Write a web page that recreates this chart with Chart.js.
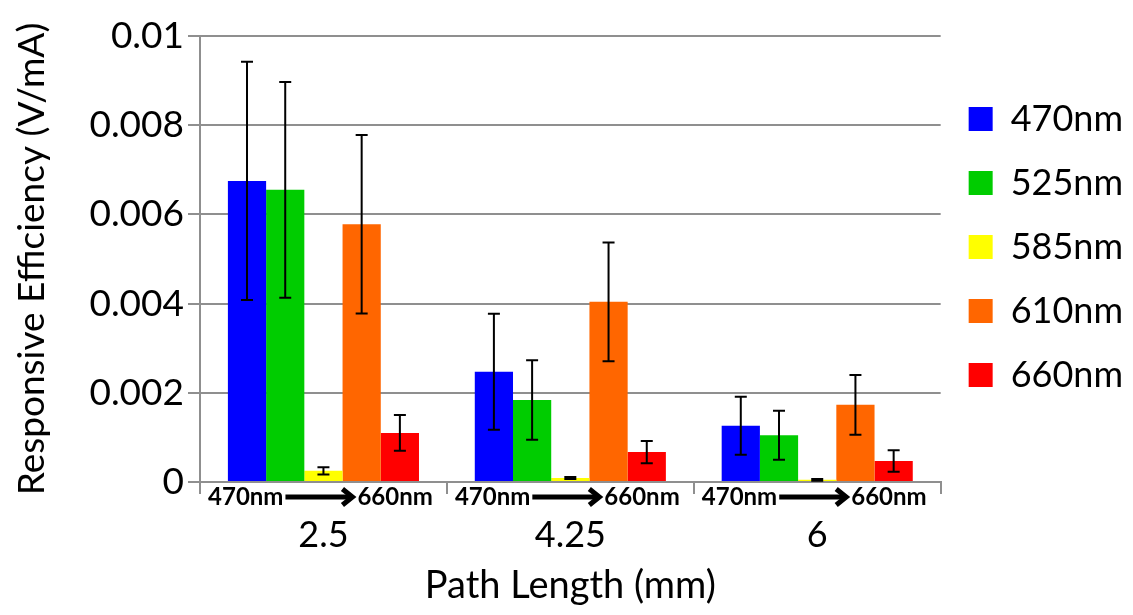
<!DOCTYPE html>
<html>
<head>
<meta charset="utf-8">
<title>Responsive Efficiency vs Path Length</title>
<script src="https://cdn.jsdelivr.net/npm/chart.js@4.4.1/dist/chart.umd.min.js"></script>
<style>
    html, body { margin: 0; padding: 0; background: #fff; }
    #wrap { width: 1133px; height: 615px; position: relative; }
</style>
</head>
<body>
<div id="wrap"><canvas id="effChart"></canvas></div>
<script>
// Données
const pathLengths = ['2.5', '4.25', '6'];
const seriesLabels = ['470nm', '525nm', '585nm', '610nm', '660nm'];
const seriesColors = ['#0000ff', '#00cc00', '#ffff00', '#ff6600', '#ff0000'];

const eff470 = [0.00675, 0.00247, 0.00126];
const eff525 = [0.00655, 0.00184, 0.00105];
const eff585 = [0.00025, 0.00009, 0.00005];
const eff610 = [0.00578, 0.00404, 0.00173];
const eff660 = [0.00110, 0.00067, 0.00047];

const err470 = [0.00267, 0.00130, 0.00065];
const err525 = [0.00242, 0.00089, 0.00055];
const err585 = [0.00008, 0.00002, 0.00002];
const err610 = [0.00200, 0.00133, 0.00067];
const err660 = [0.00040, 0.00025, 0.00024];

const yTicks = [0, 0.002, 0.004, 0.006, 0.008, 0.01];

const allValues = [eff470, eff525, eff585, eff610, eff660];
const allErrors = [err470, err525, err585, err610, err660];

const FONT = 'Lato, "Open Sans", sans-serif';
const GRID = '#8f8f8f';

// Barres d'erreur
const errorBars = {
    id: 'errorBars',
    afterDatasetsDraw(chart) {
        const ctx = chart.ctx;
        const y = chart.scales.y;
        ctx.save();
        ctx.strokeStyle = '#000';
        ctx.lineWidth = 2;
        chart.data.datasets.forEach((ds, di) => {
            const meta = chart.getDatasetMeta(di);
            meta.data.forEach((bar, i) => {
                const v = ds.data[i];
                const e = ds.errors[i];
                const top = y.getPixelForValue(v + e);
                const bot = y.getPixelForValue(Math.max(v - e, 0));
                ctx.beginPath();
                ctx.moveTo(bar.x, top);
                ctx.lineTo(bar.x, bot);
                ctx.moveTo(bar.x - 6, top);
                ctx.lineTo(bar.x + 6, top);
                ctx.moveTo(bar.x - 6, bot);
                ctx.lineTo(bar.x + 6, bot);
                ctx.stroke();
            });
        });
        ctx.restore();
    }
};

// Étiquettes "470nm -> 660nm" sous chaque groupe
const rangeLabels = {
    id: 'rangeLabels',
    afterDraw(chart) {
        const ctx = chart.ctx;
        const x = chart.scales.x;
        const yy = x.top + 15;
        ctx.save();
        ctx.fillStyle = '#000';
        ctx.strokeStyle = '#000';
        ctx.font = 'bold 24px ' + FONT;
        ctx.textBaseline = 'middle';
        pathLengths.forEach((p, i) => {
            const cx = x.getPixelForValue(i);
            ctx.textAlign = 'right';
            ctx.fillText(seriesLabels[0], cx - 40, yy);
            ctx.textAlign = 'left';
            ctx.fillText(seriesLabels[seriesLabels.length - 1], cx + 34, yy);
            // flèche
            ctx.lineWidth = 5;
            ctx.lineCap = 'butt';
            ctx.beginPath();
            ctx.moveTo(cx - 38, yy);
            ctx.lineTo(cx + 28, yy);
            ctx.stroke();
            ctx.lineJoin = 'miter';
            ctx.beginPath();
            ctx.moveTo(cx + 19, yy - 8);
            ctx.lineTo(cx + 29, yy);
            ctx.lineTo(cx + 19, yy + 8);
            ctx.stroke();
        });
        ctx.restore();
    }
};

const datasets = seriesLabels.map((lab, i) => ({
    label: lab,
    data: allValues[i],
    errors: allErrors[i],
    backgroundColor: seriesColors[i],
    borderWidth: 0,
    categoryPercentage: 0.774,
    barPercentage: 1.0
}));

new Chart(document.getElementById('effChart'), {
    type: 'bar',
    data: { labels: pathLengths, datasets: datasets },
    plugins: [errorBars, rangeLabels],
    options: {
        responsive: true,
        maintainAspectRatio: false,
        animation: false,
        layout: { padding: { top: 36, left: 10, right: 0, bottom: 0 } },
        plugins: {
            tooltip: { enabled: false },
            legend: {
                position: 'right',
                align: 'start',
                title: { display: true, text: '', font: { size: 12, lineHeight: 1 }, padding: { top: 25, bottom: 0 } },
                labels: {
                    color: '#000',
                    font: { family: FONT, size: 36 },
                    boxWidth: 24,
                    boxHeight: 24,
                    padding: 28
                }
            }
        },
        scales: {
            x: {
                afterFit(scale) { scale.height = 133; },
                grid: { drawOnChartArea: false, drawTicks: true, tickLength: 12, color: GRID, lineWidth: 2 },
                border: { color: GRID, width: 2 },
                ticks: { color: '#000', font: { family: FONT, size: 36 }, padding: 20 },
                title: {
                    display: true,
                    text: 'Path Length (mm)',
                    color: '#000',
                    font: { family: FONT, size: 38 },
                    padding: { top: 0, bottom: 6 }
                }
            },
            y: {
                min: 0,
                max: 0.01,
                afterBuildTicks(scale) {
                    scale.ticks = yTicks.map(v => ({ value: v }));
                },
                afterFit(scale) { scale.width = 190; },
                grid: { color: GRID, lineWidth: 2, tickLength: 12 },
                border: { color: GRID, width: 2 },
                ticks: {
                    color: '#000',
                    font: { family: FONT, size: 37 },
                    padding: 4,
                    callback: v => String(+v.toFixed(3))
                },
                title: {
                    display: true,
                    text: 'Responsive Efficiency (V/mA)',
                    color: '#000',
                    font: { family: FONT, size: 37 },
                    padding: { top: 0, bottom: 0 }
                }
            }
        }
    }
});
</script>
</body>
</html>
